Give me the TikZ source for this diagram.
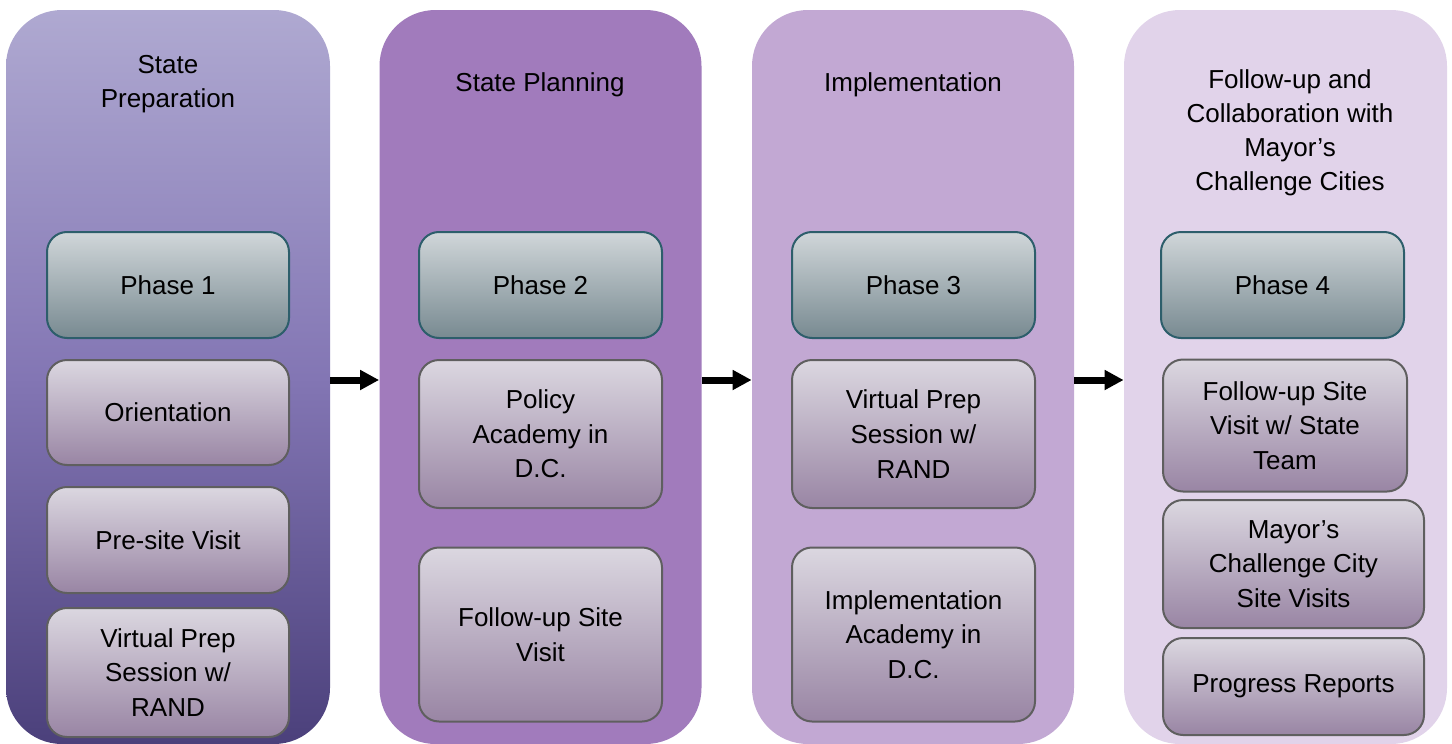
\documentclass[tikz,border=0pt]{standalone}
\usepackage{fontspec}
\setmainfont{Liberation Sans}
\usetikzlibrary{arrows.meta}
\definecolor{cA}{HTML}{A17BBC}
\definecolor{cB}{HTML}{C2A8D3}
\definecolor{cC}{HTML}{E1D3EA}
\definecolor{c1top}{HTML}{AFA9D1}
\definecolor{c1mid}{HTML}{8376B4}
\definecolor{c1bot}{HTML}{4B407B}
\definecolor{phtop}{HTML}{D0D6D9}
\definecolor{phbot}{HTML}{788A91}
\definecolor{phline}{HTML}{2D5E6B}
\definecolor{sbtop}{HTML}{DBD7E0}
\definecolor{sbbot}{HTML}{9985A4}
\definecolor{sbline}{HTML}{5F5F5F}
\tikzset{
  col/.style={rounded corners=28pt, inner sep=0pt, minimum width=162pt, minimum height=367pt},
  phasebox/.style={draw=phline, line width=1pt, rounded corners=10pt, top color=phtop, bottom color=phbot, inner sep=0pt, align=center, font=\fontsize{13pt}{17pt}\selectfont},
  subbox/.style={draw=sbline, line width=1pt, rounded corners=10pt, top color=sbtop, bottom color=sbbot, inner sep=0pt, align=center, font=\fontsize{13pt}{17.3pt}\selectfont},
  ttl/.style={align=center, inner sep=0pt, font=\fontsize{13pt}{17pt}\selectfont},
  arr/.style={line width=3.5pt, -{Triangle[length=9.5pt,width=9.5pt]}}
}
\begin{document}
\begin{tikzpicture}[x=0.5pt,y=-0.5pt]
\useasboundingbox[fill=white] (0,0) rectangle (1452,744);
% columns
\node[col, top color=c1top, bottom color=c1bot, middle color=c1mid] (c1) at (168,377) {};
\node[col, fill=cA, minimum width=161pt] (c2) at (540.5,377) {};
\node[col, fill=cB, minimum width=161pt] (c3) at (913,377) {};
\node[col, fill=cC, minimum width=161.5pt] (c4) at (1285.5,377) {};
% titles
\node[ttl] (t1) at (168,84) {State\\Preparation};
\node[ttl] (t2) at (540,85) {State Planning};
\node[ttl] (t3) at (913,85) {Implementation};
\node[ttl] (t4) at (1290,133) {Follow-up and\\Collaboration with\\Mayor’s\\Challenge Cities};
% phase boxes
\node[phasebox, minimum width=121pt, minimum height=53pt] (p1) at (168,285) {Phase 1};
\node[phasebox, minimum width=121.5pt, minimum height=53pt] (p2) at (540.5,285) {Phase 2};
\node[phasebox, minimum width=121.5pt, minimum height=53pt] (p3) at (913.5,285) {Phase 3};
\node[phasebox, minimum width=121.5pt, minimum height=53pt] (p4) at (1282.5,285) {Phase 4};
% column 1
\node[subbox, minimum width=121pt, minimum height=52.5pt] (s11) at (168,412.5) {Orientation};
\node[subbox, minimum width=121pt, minimum height=53pt] (s12) at (168,540) {Pre-site Visit};
\node[subbox, minimum width=121pt, minimum height=64.5pt] (s13) at (168,672.5) {Virtual Prep\\Session w/\\RAND};
% column 2
\node[subbox, minimum width=121.5pt, minimum height=74pt] (s21) at (540.5,434) {Policy\\Academy in\\D.C.};
\node[subbox, minimum width=121.5pt, minimum height=87pt] (s22) at (540.5,634.5) {Follow-up Site\\Visit};
% column 3
\node[subbox, minimum width=121.5pt, minimum height=74pt] (s31) at (913.5,434) {Virtual Prep\\Session w/\\RAND};
\node[subbox, minimum width=121.5pt, minimum height=87pt] (s32) at (913.5,634.5) {Implementation\\Academy in\\D.C.};
% column 4
\node[subbox, minimum width=122pt, minimum height=66pt] (s41) at (1285,425.5) {Follow-up Site\\Visit w/ State\\Team};
\node[subbox, minimum width=130.5pt, minimum height=64pt] (s42) at (1293.5,564) {Mayor’s\\Challenge City\\Site Visits};
\node[subbox, minimum width=130.5pt, minimum height=48.5pt] (s43) at (1293.5,686.5) {Progress Reports};
% arrows
\draw[arr] (c1.east |- 0,380) -- (c2.west |- 0,380);
\draw[arr] (c2.east |- 0,380) -- (c3.west |- 0,380);
\draw[arr] (c3.east |- 0,380) -- (c4.west |- 0,380);
\end{tikzpicture}
\end{document}
